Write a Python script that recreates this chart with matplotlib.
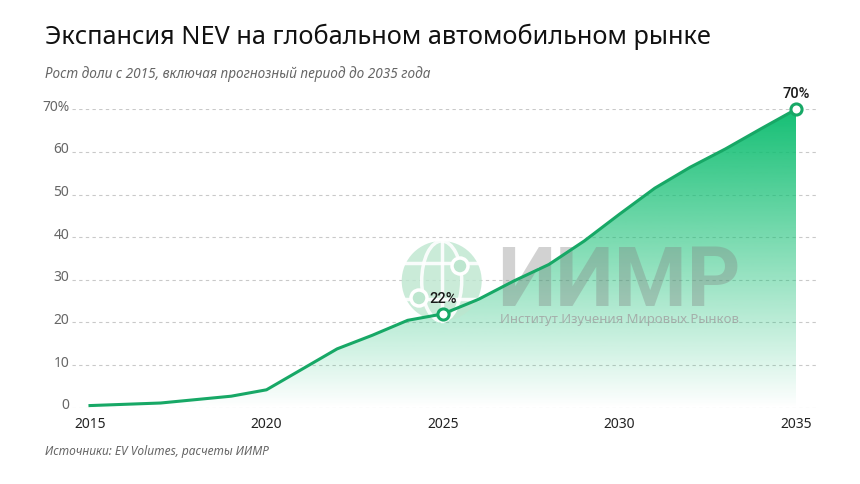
import numpy as np
import matplotlib.pyplot as plt
import matplotlib.transforms as mtransforms
from matplotlib.patches import Polygon, Ellipse
from matplotlib.colors import to_rgb

plt.rcParams['font.family'] = ['Noto Sans', 'DejaVu Sans']

# данные (доля NEV, %)
years = [2015, 2016, 2017, 2018, 2019, 2020, 2021, 2022, 2023, 2024, 2025,
         2026, 2027, 2028, 2029, 2030, 2031, 2032, 2033, 2034, 2035]
share = [0.5, 0.8, 1.1, 1.9, 2.7, 4.2, 9.0, 13.8, 17.0, 20.5, 22.0,
         25.4, 29.7, 33.6, 39.1, 45.4, 51.5, 56.4, 60.7, 65.4, 70.0]
highlight_years = [2025, 2035]
highlight_labels = ['22%', '70%']
xticks = [2015, 2020, 2025, 2030, 2035]
yticks = [0, 10, 20, 30, 40, 50, 60, 70]
ytick_labels = ['0', '10', '20', '30', '40', '50', '60', '70%']

line_color = '#17a866'
fill_color = '#14bf74'

fig = plt.figure(figsize=(8.6, 4.84), dpi=100)
ax = fig.add_axes([72 / 860, (484 - 407.7) / 484, (818 - 72) / 860, 298.4 / 484])

x = np.array(years, dtype=float)
y = np.array(share)

# градиентная заливка под кривой
verts = np.column_stack([np.r_[x[0], x, x[-1]], np.r_[0, y, 0]])
poly = Polygon(verts, closed=True, facecolor='none', edgecolor='none')
ax.add_patch(poly)
grad = np.zeros((256, 1, 4))
grad[:, :, :3] = to_rgb(fill_color)
grad[:, 0, 3] = np.linspace(0, 1, 256)
im = ax.imshow(grad, aspect='auto', extent=[x[0], x[-1], 0, 70], origin='lower', zorder=1)
im.set_clip_path(poly)

ax.plot(x, y, color=line_color, lw=2.2, solid_joinstyle='round', zorder=4, clip_on=False)

for yr, lab in zip(highlight_years, highlight_labels):
    v = share[years.index(yr)]
    ax.plot(yr, v, 'o', ms=8, mfc='white', mec=line_color, mew=2.2, zorder=5, clip_on=False)
    ax.annotate(lab, (yr, v), xytext=(0, 6), textcoords='offset points', ha='center',
                va='bottom', fontsize=10.5, family='Roboto', fontweight='medium',
                color='#1a1a1a', zorder=6)

ax.set_xlim(2015 - 18 / 35.3, 2035 + 22 / 35.3)
ax.set_ylim(0, 70)

for t in yticks:
    ax.axhline(t, color='#c9c9c9', lw=0.8, ls=(0, (3, 3)), zorder=0)

ax.set_yticks(yticks)
ax.set_yticklabels(ytick_labels)
ax.set_xticks(xticks)
ax.set_xticklabels([str(t) for t in xticks])
ax.tick_params(axis='y', length=0, pad=2, labelsize=10, labelcolor='#666666')
ax.tick_params(axis='x', length=0, pad=7, labelsize=10, labelcolor='#222222')
off = mtransforms.ScaledTranslation(0, 4 / 100, fig.dpi_scale_trans)
for lab in ax.get_yticklabels():
    lab.set_transform(lab.get_transform() + off)
for s in ax.spines.values():
    s.set_visible(False)

# водяной знак (за линией, поверх заливки)
wm_green = '#bde6cf'
ft = fig.transFigure
gx, gy = 441.7 / 860, 1 - 281 / 484
fig_ar = 860 / 484
r = 40 / 860
ax.add_artist(Ellipse((gx, gy), 2 * r, 2 * r * fig_ar, transform=ft, facecolor=wm_green,
                      edgecolor='none', alpha=0.8, zorder=3, clip_on=False))
ax.add_artist(Ellipse((gx, gy), r, 2 * r * fig_ar, transform=ft, facecolor='none',
                      edgecolor='white', lw=2.5, alpha=0.9, zorder=3, clip_on=False))
ax.add_artist(plt.Line2D([gx, gx], [gy - r * fig_ar, gy + r * fig_ar], transform=ft,
                         color='white', lw=2.5, alpha=0.9, zorder=3, clip_on=False))
for dy in (-0.45, 0.45):
    hw = r * np.sqrt(1 - dy ** 2)
    ax.add_artist(plt.Line2D([gx - hw, gx + hw], [gy + dy * r * fig_ar] * 2, transform=ft,
                             color='white', lw=2.5, alpha=0.9, zorder=3, clip_on=False))
for nx, ny in ((460 / 860, 1 - 266 / 484), (419 / 860, 1 - 298 / 484)):
    ax.add_artist(Ellipse((nx, ny), 16 / 860, 16 / 484, transform=ft, facecolor=wm_green,
                          edgecolor='white', lw=2.5, zorder=3, clip_on=False))

ax.text(497 / 860, 1 - 306 / 484, 'ИИМР', transform=ft, fontsize=60, family='Roboto',
        fontweight='bold', color='#808080', alpha=0.35, ha='left', va='baseline', zorder=3)
ax.text(500 / 860, 1 - 323 / 484, 'Институт Изучения Мировых Рынков', transform=ft,
        fontsize=9.5, color='#a0a0a0', alpha=0.8, ha='left', va='baseline', zorder=3)

fig.text(45 / 860, 1 - 37 / 484, 'Экспансия NEV на глобальном автомобильном рынке',
         fontsize=18.2, color='#111111', ha='left', va='center')
fig.text(45 / 860, 1 - 74 / 484, 'Рост доли с 2015, включая прогнозный период до 2035 года',
         fontsize=9.8, style='italic', color='#666666', ha='left', va='center')
fig.text(45 / 860, 1 - 452 / 484, 'Источники: EV Volumes, расчеты ИИМР',
         fontsize=8.6, style='italic', color='#666666', ha='left', va='center')

fig.savefig('out.png', dpi=100)
